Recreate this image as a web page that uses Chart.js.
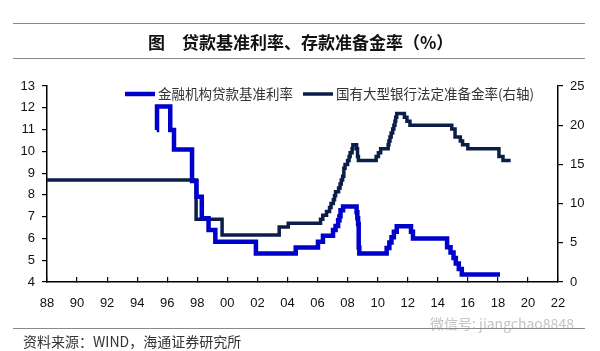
<!DOCTYPE html>
<html>
<head>
<meta charset="utf-8">
<script src="https://cdn.jsdelivr.net/npm/chart.js@4"></script>
<style>
  body { margin: 0; background: #fff; }
  #wrap { position: relative; width: 600px; height: 351px; overflow: hidden; }
  #chart { position: absolute; left: 0; top: 0; }
  .rule { position: absolute; left: 13px; width: 572px; height: 0; border-top: 1.5px solid #8a8a8a; }
  #title { position: absolute; left: 148px; top: 29px; font: bold 17px "Noto Sans CJK SC", sans-serif; color: #111; white-space: pre; }
  #source { position: absolute; left: 23px; top: 331px; font: 14px "Noto Sans CJK SC", sans-serif; color: #333; }
  #mark { position: absolute; left: 430px; top: 313px; font: 14px "Noto Sans CJK SC", sans-serif; color: #c4c4c4; }
</style>
</head>
<body>
<div id="wrap">
  <canvas id="chart" width="600" height="351"></canvas>
  <div class="rule" style="top:23px"></div>
  <div id="title">图　贷款基准利率、存款准备金率（%）</div>
  <div class="rule" style="top:58px"></div>
  <div id="mark">微信号: jiangchao8848</div>
  <div class="rule" style="top:328px"></div>
  <div id="source">资料来源：WIND，海通证券研究所</div>
</div>
<script>
// Series labels
const lendLabel = "金融机构贷款基准利率";
const reserveLabel = "国有大型银行法定准备金率(右轴)";

// Loan benchmark rate (left axis), change dates in decimal years
const lendDates = [1995.30, 1995.32, 1996.20, 1996.45, 1997.65, 1997.95, 1998.30, 1998.75, 1999.20, 2001.90,
  2004.55, 2006.03, 2006.36, 2007.03, 2007.20, 2007.37, 2007.46, 2007.53, 2007.70, 2008.60,
  2008.65, 2008.70, 2008.74, 2008.78, 2010.60, 2010.78, 2010.92, 2011.08, 2011.27, 2012.22,
  2012.35, 2014.62, 2014.85, 2015.05, 2015.20, 2015.40, 2015.60, 2018.14];
const lendRates = [10.98, 12.06, 10.98, 10.08, 8.64, 7.92, 6.93, 6.39, 5.85, 5.31,
  5.58, 5.85, 6.12, 6.39, 6.57, 6.84, 7.02, 7.29, 7.47, 7.20,
  6.93, 6.66, 5.58, 5.31, 5.56, 5.81, 6.06, 6.31, 6.56, 6.31,
  6.00, 5.60, 5.35, 5.10, 4.85, 4.60, 4.35, 4.35];

// Reserve requirement ratio of large banks (right axis)
const reserveDates = [1988.00, 1997.92, 1999.65, 2003.45, 2004.05, 2006.20, 2006.35, 2006.60, 2006.80, 2006.90,
  2007.05, 2007.13, 2007.20, 2007.40, 2007.50, 2007.58, 2007.67, 2007.75, 2007.83, 2008.00,
  2008.10, 2008.17, 2008.30, 2008.35, 2008.60, 2008.66, 2008.72, 2009.90, 2010.05, 2010.20,
  2010.70, 2010.75, 2010.82, 2010.90, 2011.00, 2011.08, 2011.15, 2011.20, 2011.27, 2011.78,
  2011.95, 2012.15, 2014.93, 2015.15, 2015.50, 2015.65, 2016.00, 2018.07, 2018.34, 2018.85];
const reserveRates = [13, 8, 6, 7, 7.5, 8, 8.5, 9, 9.5, 10,
  10.5, 11, 11.5, 12, 12.5, 13, 13.5, 14.5, 15, 15.5,
  16, 16.5, 17, 17.5, 17, 16, 15.5, 16, 16.5, 17,
  17.5, 18, 18.5, 19, 19.5, 20, 20.5, 21, 21.5, 21,
  20.5, 20, 19.5, 18.5, 18, 17.5, 17, 16, 15.5, 15.5];

// Axis ranges
const yearMin = 1988, yearMax = 2022;
const leftMin = 4, leftMax = 13;
const rightMin = 0, rightMax = 25;

const tickFont = { family: "'Liberation Sans', Arial, sans-serif", size: 13 };

// Legend drawn inside the plot area
const innerLegend = {
  id: "innerLegend",
  afterDraw(chart) {
    const c = chart.ctx;
    let x = 125;
    const y = 94;
    c.save();
    c.font = "13.5px 'Noto Sans CJK SC', sans-serif";
    c.textBaseline = "middle";
    chart.data.datasets.forEach((ds) => {
      c.strokeStyle = ds.borderColor;
      c.lineWidth = ds.borderWidth;
      c.beginPath();
      c.moveTo(x, y);
      c.lineTo(x + 30, y);
      c.stroke();
      c.fillStyle = "#333";
      c.fillText(ds.label, x + 33, y);
      x += 33 + c.measureText(ds.label).width + 10;
    });
    c.restore();
  }
};

new Chart(document.getElementById("chart"), {
  type: "line",
  data: {
    datasets: [
      {
        label: lendLabel,
        data: lendDates.map((d, i) => ({ x: d, y: lendRates[i] })),
        borderColor: "#0000cc",
        borderWidth: 4.5,
        stepped: true,
        pointRadius: 0,
        yAxisID: "y"
      },
      {
        label: reserveLabel,
        data: reserveDates.map((d, i) => ({ x: d, y: reserveRates[i] })),
        borderColor: "#0c1e48",
        borderWidth: 3.5,
        stepped: true,
        pointRadius: 0,
        yAxisID: "y2"
      }
    ]
  },
  options: {
    responsive: false,
    animation: false,
    layout: { padding: { top: 86, left: 0, right: 0, bottom: 0 } },
    plugins: { legend: { display: false }, tooltip: { enabled: false } },
    scales: {
      x: {
        type: "linear",
        min: yearMin,
        max: yearMax,
        afterFit: (s) => { s.height = 69; },
        afterBuildTicks: (s) => {
          s.ticks = [];
          for (let v = yearMin; v <= yearMax; v += 2) s.ticks.push({ value: v });
        },
        ticks: {
          font: tickFont,
          color: "#111",
          padding: 19,
          maxRotation: 0,
          autoSkip: false,
          callback: (v) => String(v % 100).padStart(2, "0")
        },
        grid: { drawOnChartArea: false, drawTicks: true, tickLength: -5, color: "#000", lineWidth: 1.2 },
        border: { color: "#000", width: 1.5 }
      },
      y: {
        position: "left",
        min: leftMin,
        max: leftMax,
        afterFit: (s) => { s.width = 47; },
        ticks: { stepSize: 1, font: tickFont, color: "#111", padding: 7 },
        grid: { drawOnChartArea: false, drawTicks: true, tickLength: 5, color: "#000", lineWidth: 1.2 },
        border: { color: "#000", width: 1.5 }
      },
      y2: {
        position: "right",
        min: rightMin,
        max: rightMax,
        afterFit: (s) => { s.width = 42; },
        ticks: { stepSize: 5, font: tickFont, color: "#111", padding: 7 },
        grid: { drawOnChartArea: false, drawTicks: true, tickLength: 5, color: "#000", lineWidth: 1.2 },
        border: { color: "#000", width: 1.5 }
      }
    }
  },
  plugins: [innerLegend]
});
</script>
</body>
</html>
